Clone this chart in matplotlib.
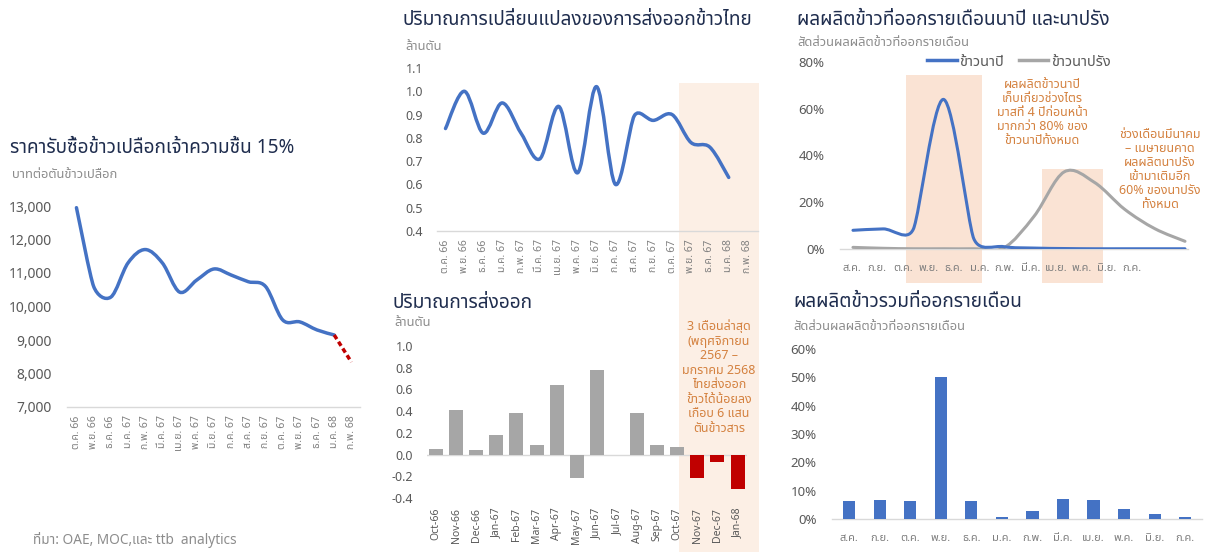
import numpy as np
import matplotlib
matplotlib.use('Agg')
import matplotlib.pyplot as plt
import matplotlib.transforms as mtransforms
from matplotlib import font_manager
from matplotlib.ft2font import FT2Font
from matplotlib.path import Path
from matplotlib.patches import PathPatch, Rectangle
from matplotlib.lines import Line2D

# ---- data ----
thai_months = ['ต.ค. 66', 'พ.ย. 66', 'ธ.ค. 66', 'ม.ค. 67', 'ก.พ. 67', 'มี.ค. 67', 'เม.ย. 67',
               'พ.ค. 67', 'มิ.ย. 67', 'ก.ค. 67', 'ส.ค. 67', 'ก.ย. 67', 'ต.ค. 67', 'พ.ย. 67',
               'ธ.ค. 67', 'ม.ค. 68', 'ก.พ. 68']
paddy_price = [12950, 10600, 10280, 11300, 11700, 11300, 10430, 10790, 11120, 10940,
               10740, 10600, 9600, 9540, 9300, 9150]
paddy_price_forecast = [9150, 8340]   # ม.ค. 68 -> ก.พ. 68

export_volume = [0.84, 1.00, 0.82, 0.95, 0.82, 0.71, 0.935, 0.65, 1.02, 0.60, 0.895,
                 0.875, 0.90, 0.78, 0.76, 0.63]

export_months_en = ['Oct-66', 'Nov-66', 'Dec-66', 'Jan-67', 'Feb-67', 'Mar-67', 'Apr-67',
                    'May-67', 'Jun-67', 'Jul-67', 'Aug-67', 'Sep-67', 'Oct-67', 'Nov-67',
                    'Dec-67', 'Jan-68']
export_change = [0.05, 0.41, 0.04, 0.18, 0.38, 0.09, 0.64, -0.22, 0.78, 0.0, 0.38, 0.09,
                 0.07, -0.215, -0.065, -0.32]
n_recent = 3

crop_months = ['ส.ค.', 'ก.ย.', 'ต.ค.', 'พ.ย.', 'ธ.ค.', 'ม.ค.', 'ก.พ.', 'มี.ค.', 'เม.ย.',
               'พ.ค.', 'มิ.ย.', 'ก.ค.']
main_crop = [8, 8.6, 8.5, 64, 4.5, 1.0, 0.4, 0.2, 0.1, 0.1, 0.1, 0.1]
second_crop = [0.7, 0.3, 0.1, 0.1, 0.1, 0.5, 14, 33, 28.5, 17, 8.7, 3.3]
total_crop = [6.2, 6.6, 6.2, 50, 6.2, 0.8, 2.8, 7.1, 6.8, 3.4, 1.6, 0.8]

# ---- fonts: pick whatever installed face has Thai glyphs ----
def find_thai_font():
    found = {}
    for f in font_manager.fontManager.ttflist:
        try:
            if ord('ก') in FT2Font(f.fname).get_charmap():
                found.setdefault(f.name, f.fname)
        except Exception:
            pass
    for name in ['Noto Sans Thai', 'Noto Sans Thai UI', 'Sarabun', 'Kanit', 'Prompt',
                 'Loma', 'Waree', 'Garuda', 'Umpush', 'Tlwg Typist']:
        if name in found:
            return name
    return next(iter(found), None)

thai_font = find_thai_font()
plt.rcParams['font.family'] = ([thai_font] if thai_font else []) + ['DejaVu Sans']

NAVY = '#1f2d4e'
SUB = '#8c8c8c'
TICK = '#595959'
XTICK = '#7f7f7f'
GRID = '#d9d9d9'
BLUE = '#4472c4'
GRAY = '#a6a6a6'
RED = '#c00000'
ORANGE = '#d4813f'
PEACH = '#fae3d4'
PEACH_LIGHT = '#fcefe5'
TITLE_SIZE = 13.7
SUB_SIZE = 9.3

W, H = 1223, 552
fig = plt.figure(figsize=(W / 100, H / 100), dpi=100)


def px_axes(x0, y0, x1, y1):
    ax = fig.add_axes([x0 / W, 1 - y1 / H, (x1 - x0) / W, (y1 - y0) / H])
    ax.set_facecolor('none')
    for s in ax.spines.values():
        s.set_visible(False)
    ax.tick_params(length=0, colors=TICK)
    return ax


def fig_text(x, y, s, **kw):
    return fig.text(x / W, 1 - y / H, s, **kw)


def ctrl(a, b, c):
    # Excel-like tangent at b, limited to half the shorter neighbouring chord
    v = (c - a) / 6.0
    d = [np.hypot(*(b - a)), np.hypot(*(c - b))]
    d = [x for x in d if x > 0]
    lim = 0.5 * min(d) if d else 0
    L = np.hypot(*v)
    if L > lim > 0:
        v = v * lim / L
    return v


def smooth_line(ax, xs, ys, **kw):
    pts = ax.transData.transform(np.column_stack([xs, ys]).astype(float))
    n = len(pts)
    verts = [pts[0]]
    for i in range(n - 1):
        p0 = pts[i - 1] if i > 0 else pts[i]
        p1, p2 = pts[i], pts[i + 1]
        p3 = pts[i + 2] if i + 2 < n else pts[i + 1]
        verts += [p1 + ctrl(p0, p1, p2), p2 - ctrl(p1, p2, p3), p2]
    verts = ax.transData.inverted().transform(np.array(verts))
    codes = [Path.MOVETO] + [Path.CURVE4] * (len(verts) - 1)
    ax.add_patch(PathPatch(Path(verts, codes), fill=False, capstyle='round',
                           joinstyle='round', **kw))


# ---- panel 1: paddy price ----
fig_text(10, 148, 'ราคารับซื้อข้าวเปลือกเจ้าความชื้น 15%', color=NAVY, fontsize=TITLE_SIZE, va='center')
fig_text(12, 174, 'บาทต่อตันข้าวเปลือก', color=SUB, fontsize=SUB_SIZE, va='center')
ax1 = px_axes(67, 206, 360, 407)
ax1.set_xlim(-0.55, 16.5)
ax1.set_ylim(7000, 13000)
smooth_line(ax1, np.arange(len(paddy_price)), paddy_price, edgecolor=BLUE, lw=2.5)
fc_x = np.arange(len(paddy_price) - 1, len(paddy_price) + 1)
ax1.plot(fc_x, paddy_price_forecast, color=RED, lw=2.5, ls=(0, (1.4, 0.9)))
ax1.axhline(7000, color=GRID, lw=1, clip_on=False)
ax1.set_xticks(range(len(thai_months)), thai_months, rotation=90, fontsize=7.5)
yt = list(range(7000, 13001, 1000))
ax1.set_yticks(yt, [f'{v:,}' for v in yt], fontsize=10)
ax1.tick_params(axis='y', pad=11)
ax1.tick_params(axis='x', pad=6, labelcolor=XTICK)

# ---- panel 2: export volume line ----
fig_text(403, 20, 'ปริมาณการเปลี่ยนแปลงของการส่งออกข้าวไทย', color=NAVY, fontsize=TITLE_SIZE, va='center')
fig_text(405, 46, 'ล้านตัน', color=SUB, fontsize=SUB_SIZE, va='center')
ax2 = px_axes(437, 68, 758, 231)
ax2.set_xlim(-0.45, 16.55)
ax2.set_ylim(0.4, 1.1)
band = mtransforms.blended_transform_factory(ax2.transData, fig.transFigure)
ax2.add_patch(Rectangle((12.35, 0), 16.62 - 12.35, 1 - 83 / H, transform=band,
                        facecolor=PEACH_LIGHT, edgecolor='none', zorder=0, clip_on=False))
smooth_line(ax2, np.arange(len(export_volume)), export_volume, edgecolor=BLUE, lw=2.5)
ax2.axhline(0.4, color=GRID, lw=1, clip_on=False)
ax2.set_xticks(range(len(thai_months)), thai_months, rotation=90, fontsize=7.5)
yt2 = np.round(np.arange(0.4, 1.11, 0.1), 1)
ax2.set_yticks(yt2, [f'{v:.1f}' for v in yt2], fontsize=9)
ax2.tick_params(axis='y', pad=10)
ax2.tick_params(axis='x', pad=6, labelcolor=XTICK)

# ---- panel 3: export change bars ----
fig_text(392, 303, 'ปริมาณการส่งออก', color=NAVY, fontsize=TITLE_SIZE, va='center')
fig_text(394, 322, 'ล้านตัน', color=SUB, fontsize=SUB_SIZE, va='center')
ax3 = px_axes(427, 346, 747, 498)
ax3.set_xlim(-0.45, 15.47)
ax3.set_ylim(-0.4, 1.0)
bar_colors = [GRAY] * (len(export_change) - n_recent) + [RED] * n_recent
ax3.bar(np.arange(len(export_change)), export_change, width=0.7, color=bar_colors, zorder=2)
ax3.axhline(0, color=GRID, lw=1, zorder=1)
ax3.set_xticks(range(len(export_months_en)), export_months_en, rotation=90, fontsize=7.5)
yt3 = [-0.4, -0.2, 0.0, 0.2, 0.4, 0.6, 0.8, 1.0]
ax3.set_yticks(yt3, [f'{v:.1f}' for v in yt3], fontsize=9)
ax3.tick_params(axis='y', pad=10)
ax3.tick_params(axis='x', pad=7)
fig_text(719, 377, '3 เดือนล่าสุด\n(พฤศจิกายน\n2567 –\nมกราคม 2568\nไทยส่งออก\n'
         'ข้าวได้น้อยลง\nเกือบ 6 แสน\nตันข้าวสาร', color=ORANGE, fontsize=9,
         ha='center', va='center', linespacing=1.15)

# ---- panel 4: monthly harvest lines ----
fig_text(797, 20, 'ผลผลิตข้าวที่ออกรายเดือนนาปี และนาปรัง', color=NAVY, fontsize=TITLE_SIZE, va='center')
fig_text(797, 43, 'สัดส่วนผลผลิตข้าวที่ออกรายเดือน', color=SUB, fontsize=SUB_SIZE, va='center')
ax4 = px_axes(840, 62, 1188, 249)
ax4.set_xlim(-0.43, 11.1)
ax4.set_ylim(0, 80)
band4 = mtransforms.blended_transform_factory(ax4.transData, fig.transFigure)
for x0, x1, top in [(1.75, 4.27, 75), (6.26, 8.28, 169)]:
    ax4.add_patch(Rectangle((x0, 1 - 283 / H), x1 - x0, (283 - top) / H, transform=band4,
                            facecolor=PEACH, edgecolor='none', zorder=0, clip_on=False))
xc = np.arange(len(crop_months))
smooth_line(ax4, xc, second_crop, edgecolor=GRAY, lw=2.2, zorder=2)
smooth_line(ax4, xc, main_crop, edgecolor=BLUE, lw=2.2, zorder=3)
ax4.axhline(0, color=GRID, lw=1, clip_on=False, zorder=1)
ax4.set_xticks([])
yt4 = [0, 20, 40, 60, 80]
ax4.set_yticks(yt4, [f'{v}%' for v in yt4], fontsize=9.5)
ax4.tick_params(axis='y', pad=11)
handles = [Line2D([], [], color=BLUE, lw=2.5), Line2D([], [], color=GRAY, lw=2.5)]
ax4.legend(handles, ['ข้าวนาปี', 'ข้าวนาปรัง'], loc='center',
           bbox_to_anchor=((1019 - 840) / 348, 1.0), ncol=2, frameon=False,
           handlelength=2.0, handletextpad=0.2, columnspacing=1.0, fontsize=10.5,
           labelcolor=TICK)
lab4 = px_axes(839, 62, 1145, 249)
lab4.set_xlim(-0.5, 11.5)
lab4.set_ylim(0, 1)
lab4.set_yticks([])
lab4.set_xticks(range(len(crop_months)), crop_months, fontsize=8)
lab4.tick_params(axis='x', pad=10, labelcolor=XTICK)
fig_text(1042, 113, 'ผลผลิตข้าวนาปี\nเก็บเกี่ยวช่วงไตร\nมาสที่ 4 ปีก่อนหน้า\nมากกว่า 80% ของ\n'
         'ข้าวนาปีทั้งหมด', color=ORANGE, fontsize=9, ha='center', va='center',
         linespacing=1.1)
fig_text(1160, 170, 'ช่วงเดือนมีนาคม\n– เมษายนคาด\nผลผลิตนาปรัง\nเข้ามาเติมอีก\n'
         '60% ของนาปรัง\nทั้งหมด', color=ORANGE, fontsize=9, ha='center', va='center',
         linespacing=1.1)

# ---- panel 5: total monthly harvest bars ----
fig_text(793, 302, 'ผลผลิตข้าวรวมที่ออกรายเดือน', color=NAVY, fontsize=TITLE_SIZE, va='center')
fig_text(793, 327, 'สัดส่วนผลผลิตข้าวที่ออกรายเดือน', color=SUB, fontsize=SUB_SIZE, va='center')
ax5 = px_axes(832, 349, 1202, 519)
ax5.set_xlim(-0.56, 11.55)
ax5.set_ylim(0, 60)
ax5.bar(xc, total_crop, width=0.4, color=BLUE, zorder=2)
ax5.axhline(0, color=GRID, lw=1, clip_on=False, zorder=1)
ax5.set_xticks(range(len(crop_months)), crop_months, fontsize=8)
yt5 = list(range(0, 61, 10))
ax5.set_yticks(yt5, [f'{v}%' for v in yt5], fontsize=9.5)
ax5.tick_params(axis='y', pad=11)
ax5.tick_params(axis='x', pad=10, labelcolor=XTICK)

fig_text(33, 540, 'ที่มา: OAE, MOC,และ ttb  analytics', color=SUB, fontsize=9.8, va='center')

fig.savefig('out.png', dpi=100)
